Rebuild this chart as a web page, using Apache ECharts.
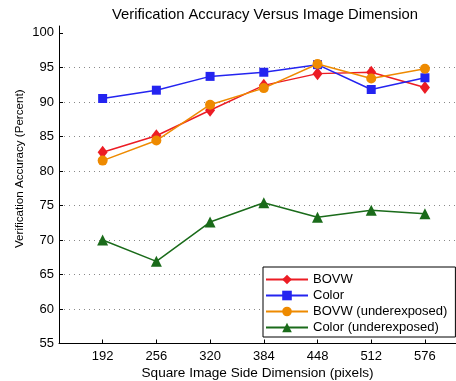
<!DOCTYPE html>
<html>
<head>
<meta charset="utf-8">
<script src="https://cdn.jsdelivr.net/npm/echarts@6/dist/echarts.min.js"></script>
<style>
    html, body { margin: 0; padding: 0; background: #fff; }
    #chart { width: 456px; height: 381px; }
</style>
</head>
<body>
<div id="chart"></div>
<script>
// image side dimensions (x values)
var dimensions = [192, 256, 320, 384, 448, 512, 576];
var yTicks = [55, 60, 65, 70, 75, 80, 85, 90, 95, 100];

var bovw = [82.7, 85.1, 88.8, 92.4, 94.1, 94.3, 92.1];
var color = [90.5, 91.7, 93.7, 94.3, 95.4, 91.8, 93.5];
var bovwUnder = [81.5, 84.4, 89.6, 92.0, 95.5, 93.4, 94.8];
var colorUnder = [70.0, 66.9, 72.6, 75.4, 73.3, 74.3, 73.8];

var FONT = 'Liberation Sans';

function pairs(values) {
    var out = [];
    for (var i = 0; i < dimensions.length; i++) {
        out.push([dimensions[i], values[i]]);
    }
    return out;
}

function lineSeries(name, values, lineColor, symbol, size) {
    return {
        name: name,
        type: 'line',
        data: pairs(values),
        symbol: symbol,
        symbolSize: size,
        showAllSymbol: true,
        animation: false,
        lineStyle: { color: lineColor, width: 1.5 },
        itemStyle: { color: lineColor }
    };
}

var myChart = echarts.init(document.getElementById('chart'), null, { renderer: 'canvas' });
var option = {
    backgroundColor: '#fff',
    animation: false,
    title: {
        text: 'Verification Accuracy Versus Image Dimension',
        left: 107,
        top: 2,
        textStyle: { fontFamily: FONT, fontSize: 14.8, fontWeight: 'normal', color: '#000' }
    },
    grid: { left: 59, right: 0, top: 26, bottom: 37.5, containLabel: false, outerBoundsMode: 'none' },
    legend: {
        orient: 'vertical',
        left: 263,
        top: 267,
        width: 200,
        itemWidth: 42,
        itemHeight: 12,
        itemGap: 3,
        padding: [6, 8, 3, 2],
        borderColor: '#000',
        borderWidth: 1,
        backgroundColor: '#fff',
        textStyle: { fontFamily: FONT, fontSize: 13, color: '#000' }
    },
    xAxis: {
        type: 'value',
        min: 140,
        max: 613,
        name: 'Square Image Side Dimension (pixels)',
        nameLocation: 'middle',
        nameGap: 22.5,
        nameMoveOverlap: false,
        nameTextStyle: { fontFamily: FONT, fontSize: 13.6, color: '#000' },
        axisLine: { onZero: false, lineStyle: { color: '#000', width: 1 } },
        axisTick: { inside: true, length: 4, customValues: dimensions, lineStyle: { color: '#000' } },
        axisLabel: { customValues: dimensions, margin: 6, fontFamily: FONT, fontSize: 13, color: '#000' },
        splitLine: { show: false }
    },
    yAxis: {
        type: 'value',
        min: 55,
        max: 101,
        interval: 5,
        name: 'Verification Accuracy (Percent)',
        nameLocation: 'middle',
        nameGap: 33,
        nameMoveOverlap: false,
        nameTextStyle: { fontFamily: FONT, fontSize: 11.6, color: '#000', padding: [0, 0, 0, 32] },
        axisLine: { show: true, onZero: false, lineStyle: { color: '#000', width: 1 } },
        axisTick: { show: true, inside: true, length: 4, customValues: yTicks, lineStyle: { color: '#000' } },
        axisLabel: { customValues: yTicks, margin: 5, fontFamily: FONT, fontSize: 13, color: '#000' },
        splitLine: {
            show: true,
            showMinLine: false,
            showMaxLine: false,
            lineStyle: { color: '#888', type: [1, 4], width: 1 }
        }
    },
    series: [
        lineSeries('BOVW', bovw, '#ec1c24', 'diamond', [10, 13]),
        lineSeries('Color', color, '#2424f0', 'rect', 9),
        lineSeries('BOVW (underexposed)', bovwUnder, '#ee8a00', 'circle', 10),
        lineSeries('Color (underexposed)', colorUnder, '#1a6b1a', 'triangle', 11)
    ]
};
if (option && typeof option === "object") {
    myChart.setOption(option, true);
}
</script>
</body>
</html>
